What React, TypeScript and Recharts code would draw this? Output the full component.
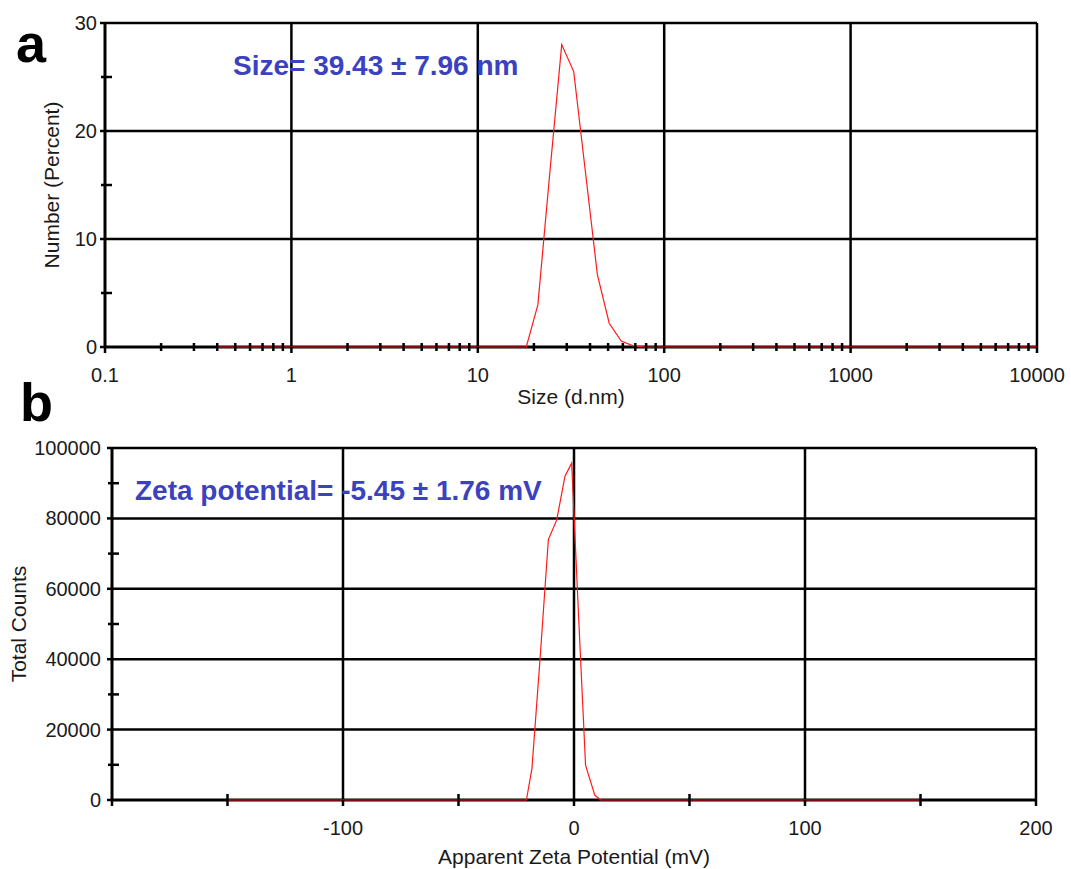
import { LineChart, Line, XAxis, YAxis, ReferenceLine } from 'recharts';

const FONT = '"Liberation Sans", Arial, sans-serif';
const INK = '#1a1a1a';
const NOTE_BLUE = '#3b42bf';

// (a) size distribution by number
const SIZE_NM = [0.4, 18.2, 21.0, 24.3, 28.2, 32.7, 37.8, 43.8, 50.7, 58.8, 68.1, 78.8, 10000];
const NUMBER_PCT = [0, 0, 3.9, 16.0, 28.0, 25.5, 16.2, 6.7, 2.2, 0.55, 0.1, 0, 0];

const SIZE_DECADES = [0.1, 1, 10, 100, 1000, 10000];
const SIZE_GRID = [1, 10, 100, 1000, 10000];
const PCT_TICKS = [0, 5, 10, 15, 20, 25, 30];
const PCT_LABELS = [0, 10, 20, 30];
const PCT_GRID = [10, 20, 30];

// (b) zeta potential distribution
const ZETA_MV = [-150, -20.6, -18.2, -14.6, -11.1, -7.5, -3.9, -1.0, 2.0, 5.0, 9.0, 11.5, 150];
const TOTAL_COUNTS = [0, 0, 9000, 41000, 74000, 79500, 92000, 95700, 52000, 9900, 1400, 0, 0];

const ZETA_TICKS = [-200, -150, -100, -50, 0, 50, 100, 150, 200];
const ZETA_MAJOR = [-200, -100, 0, 100, 200];
const ZETA_LABELS = [-100, 0, 100, 200];
const ZETA_GRID = [-100, 0, 100, 200];
const COUNT_TICKS = [0, 10000, 20000, 30000, 40000, 50000, 60000, 70000, 80000, 90000, 100000];
const COUNT_LABELS = [0, 20000, 40000, 60000, 80000, 100000];
const COUNT_GRID = [20000, 40000, 60000, 80000, 100000];

// minor ticks 2..9 inside every decade
const SIZE_TICKS = SIZE_DECADES.flatMap((d, i) =>
  i === SIZE_DECADES.length - 1 ? [d] : [d, 2 * d, 3 * d, 4 * d, 5 * d, 6 * d, 7 * d, 8 * d, 9 * d]
);

const sizeData = SIZE_NM.map((x, i) => ({ x, y: NUMBER_PCT[i] }));
const zetaData = ZETA_MV.map((x, i) => ({ x, y: TOTAL_COUNTS[i] }));

type XTickProps = {
  x?: number;
  y?: number;
  payload?: { value: number };
  majors: number[];
  labels: number[];
  minorLen: number;
};

function XTick({ x = 0, y = 0, payload, majors, labels, minorLen }: XTickProps) {
  const v = payload ? payload.value : 0;
  const major = majors.includes(v);
  return (
    <g>
      {major ? (
        <line x1={x} x2={x} y1={y} y2={y + 6} stroke="#000" strokeWidth={2.5} />
      ) : (
        <line x1={x} x2={x} y1={y - minorLen} y2={y + minorLen} stroke="#000" strokeWidth={2.5} />
      )}
      {labels.includes(v) && (
        <text x={x} y={y + 35} textAnchor="middle" fontSize={20} fontFamily={FONT} fill={INK}>
          {String(v)}
        </text>
      )}
    </g>
  );
}

type YTickProps = {
  x?: number;
  y?: number;
  payload?: { value: number };
  labels: number[];
  gap: number;
};

function YTick({ x = 0, y = 0, payload, labels, gap }: YTickProps) {
  const v = payload ? payload.value : 0;
  const major = labels.includes(v);
  return (
    <g>
      {major ? (
        <line x1={x - 5} x2={x} y1={y} y2={y} stroke="#000" strokeWidth={2.5} />
      ) : (
        <line x1={x - 4} x2={x + 7} y1={y} y2={y} stroke="#000" strokeWidth={2.5} />
      )}
      {major && (
        <text x={x - gap} y={y + 7} textAnchor="end" fontSize={20} fontFamily={FONT} fill={INK}>
          {String(v)}
        </text>
      )}
    </g>
  );
}

type TitleProps = {
  viewBox?: { x: number; y: number; width: number; height: number };
  text: string;
  cx: number;
};

function YTitle({ viewBox, text, cx }: TitleProps) {
  if (!viewBox) return null;
  const tx = viewBox.x + cx;
  const ty = viewBox.y + viewBox.height / 2;
  return (
    <text
      x={tx}
      y={ty}
      transform={`rotate(-90 ${tx} ${ty})`}
      textAnchor="middle"
      dominantBaseline="central"
      fontSize={21}
      fontFamily={FONT}
      fill={INK}
    >
      {text}
    </text>
  );
}

// axis lines are drawn as reference lines so the red trace stays on top of them
const axisStroke = { stroke: '#000', strokeWidth: 3 };
const gridStroke = { stroke: '#000', strokeWidth: 2.5 };

export default function App() {
  return (
    <div
      style={{
        position: 'absolute',
        left: 0,
        top: 0,
        width: 1071,
        height: 869,
        background: '#fff',
        fontFamily: FONT,
      }}
    >
      <div style={{ position: 'absolute', left: 0, top: 0 }}>
        <LineChart width={1071} height={420} data={sizeData} margin={{ top: 23, right: 34, bottom: 0, left: 0 }}>
          <XAxis
            dataKey="x"
            type="number"
            scale="log"
            domain={[0.1, 10000]}
            ticks={SIZE_TICKS}
            interval={0}
            height={73}
            tickSize={0}
            tickMargin={0}
            axisLine={false}
            tickLine={false}
            tick={<XTick majors={SIZE_DECADES} labels={SIZE_DECADES} minorLen={4} />}
            label={{ value: 'Size (d.nm)', position: 'insideBottom', offset: 16, fontSize: 21, fill: INK, fontFamily: FONT }}
          />
          <YAxis
            type="number"
            domain={[0, 30]}
            ticks={PCT_TICKS}
            interval={0}
            width={105}
            tickSize={0}
            tickMargin={0}
            axisLine={false}
            tickLine={false}
            tick={<YTick labels={PCT_LABELS} gap={8} />}
            label={<YTitle text="Number (Percent)" cx={51} />}
          />
          {SIZE_GRID.map(v => (
            <ReferenceLine key={`sx${v}`} x={v} {...gridStroke} />
          ))}
          {PCT_GRID.map(v => (
            <ReferenceLine key={`sy${v}`} y={v} {...gridStroke} />
          ))}
          <ReferenceLine y={0} {...axisStroke} />
          <ReferenceLine x={0.1} {...axisStroke} />
          <Line
            type="linear"
            dataKey="y"
            stroke="#ff1a1a"
            strokeWidth={1.2}
            dot={false}
            isAnimationActive={false}
          />
        </LineChart>
      </div>

      <div style={{ position: 'absolute', left: 0, top: 420 }}>
        <LineChart width={1071} height={449} data={zetaData} margin={{ top: 28, right: 35, bottom: 0, left: 0 }}>
          <XAxis
            dataKey="x"
            type="number"
            domain={[-200, 200]}
            ticks={ZETA_TICKS}
            interval={0}
            height={69}
            tickSize={0}
            tickMargin={0}
            axisLine={false}
            tickLine={false}
            tick={<XTick majors={ZETA_MAJOR} labels={ZETA_LABELS} minorLen={6} />}
            label={{
              value: 'Apparent Zeta Potential (mV)',
              position: 'insideBottom',
              offset: 5,
              fontSize: 21,
              fill: INK,
              fontFamily: FONT,
            }}
          />
          <YAxis
            type="number"
            domain={[0, 100000]}
            ticks={COUNT_TICKS}
            interval={0}
            width={112}
            tickSize={0}
            tickMargin={0}
            axisLine={false}
            tickLine={false}
            tick={<YTick labels={COUNT_LABELS} gap={11} />}
            label={<YTitle text="Total Counts" cx={18} />}
          />
          {ZETA_GRID.map(v => (
            <ReferenceLine key={`zx${v}`} x={v} {...gridStroke} />
          ))}
          {COUNT_GRID.map(v => (
            <ReferenceLine key={`zy${v}`} y={v} {...gridStroke} />
          ))}
          <ReferenceLine y={0} {...axisStroke} />
          <ReferenceLine x={-200} {...axisStroke} />
          <Line
            type="linear"
            dataKey="y"
            stroke="#ff1a1a"
            strokeWidth={1.2}
            dot={false}
            isAnimationActive={false}
          />
        </LineChart>
      </div>

      <svg
        width={1071}
        height={869}
        style={{ position: 'absolute', left: 0, top: 0, pointerEvents: 'none' }}
      >
        <text x={16} y={62} fontSize={54} fontWeight="bold" fontFamily={FONT} fill="#000">
          a
        </text>
        <text x={20} y={421} fontSize={54} fontWeight="bold" fontFamily={FONT} fill="#000">
          b
        </text>
        <text x={233} y={75} fontSize={28} fontWeight="bold" fontFamily={FONT} fill={NOTE_BLUE}>
          Size= 39.43 ± 7.96 nm
        </text>
        <text x={135} y={500} fontSize={28} fontWeight="bold" fontFamily={FONT} fill={NOTE_BLUE}>
          Zeta potential= -5.45 ± 1.76 mV
        </text>
      </svg>
    </div>
  );
}
